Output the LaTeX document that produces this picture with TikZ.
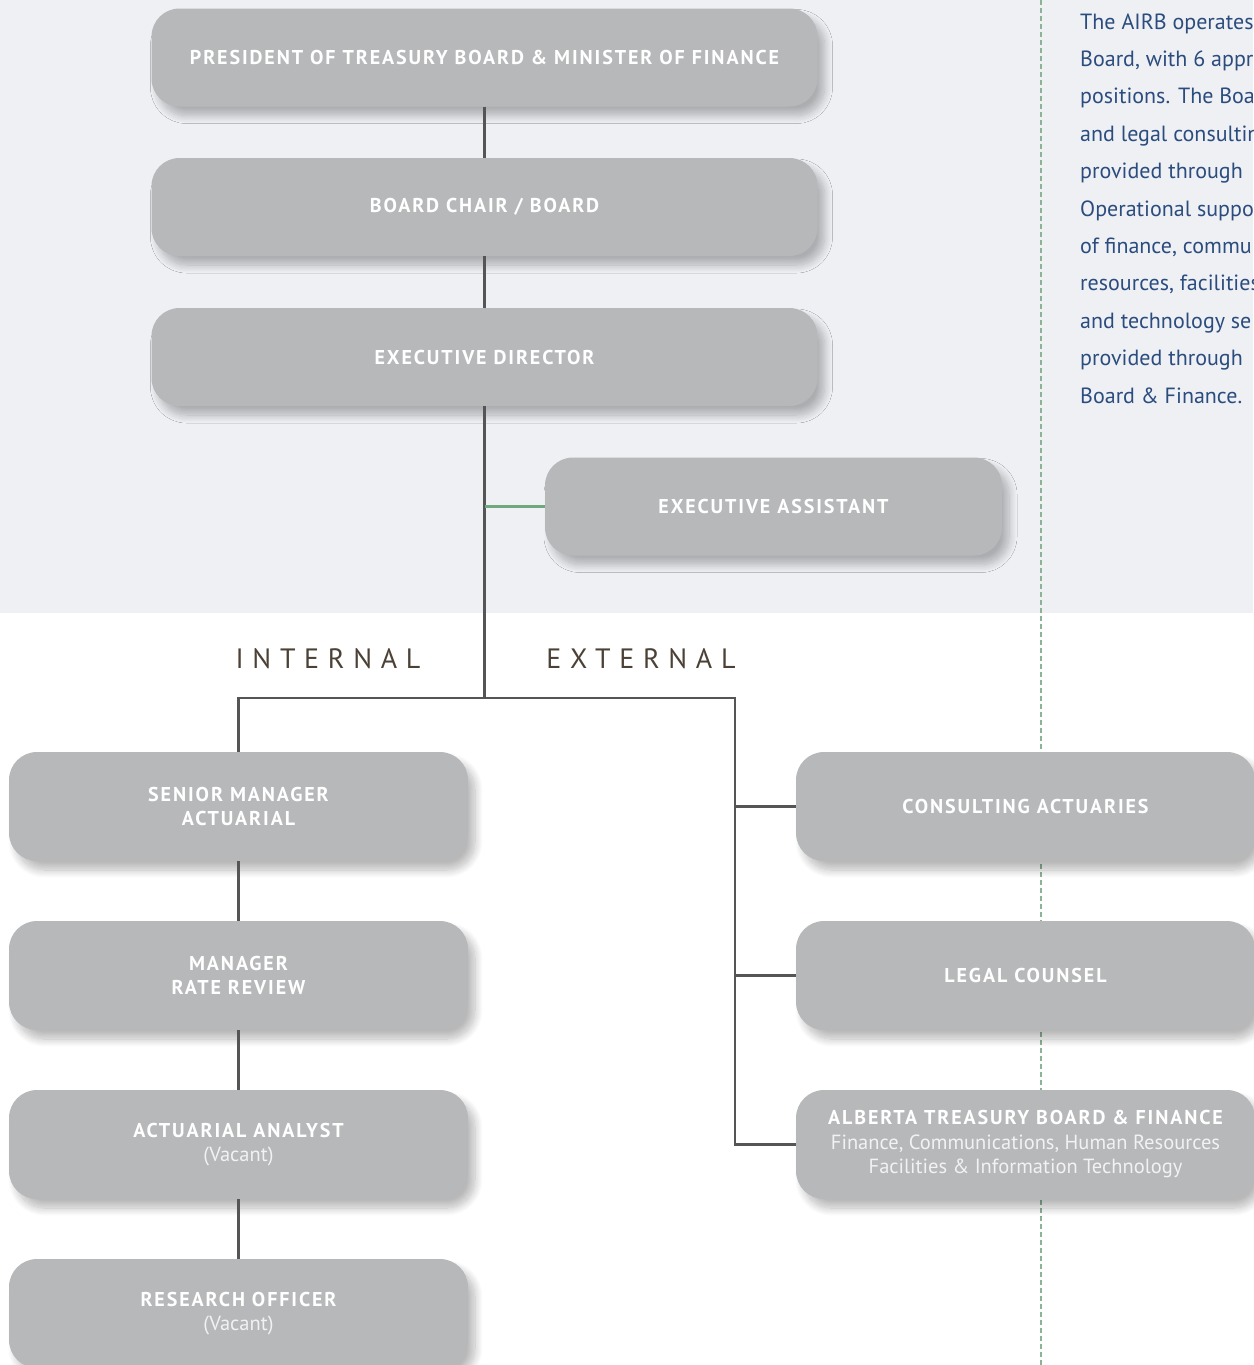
\documentclass[tikz,border=0pt]{standalone}
\usepackage{fontspec}
\setmainfont{PT Sans}
\newfontfamily\boxfont[LetterSpace=9.5]{PT Sans}
\newfontfamily\widefont[LetterSpace=31]{PT Sans}
\usetikzlibrary{shadows.blur}
\definecolor{boxgray}{HTML}{B7B8BA}
\definecolor{bgshade}{HTML}{EFF0F4}
\definecolor{connc}{HTML}{555555}
\definecolor{greenc}{HTML}{6FA77F}
\definecolor{dashc}{HTML}{8DB396}
\definecolor{bluetext}{HTML}{2B4C7E}
\definecolor{browntext}{HTML}{4B4136}
\definecolor{subtext}{HTML}{F2F2F3}
\begin{document}
\begin{tikzpicture}[x=1pt,y=-1pt,
  orgbox/.style={fill=boxgray, rounded corners=28pt, minimum width=666pt,
    minimum height=98pt, inner sep=0pt, text=white, align=center,
    font=\boxfont\bfseries\fontsize{20}{24.5}\selectfont,
    blur shadow={shadow xshift=7pt, shadow yshift=-9pt, shadow blur radius=8pt, shadow blur steps=12, shadow opacity=28}},
  lowbox/.style={orgbox, minimum width=459pt, minimum height=109pt},
  conn/.style={draw=connc, line width=2.4pt},
  greenline/.style={draw=greenc, line width=2.4pt},
  dashline/.style={draw=dashc, line width=1.4pt, dash pattern=on 5pt off 3pt},
  sidetext/.style={anchor=base west, inner sep=0pt, text=bluetext, font=\fontsize{22}{26}\selectfont},
  splitlabel/.style={text=browntext, inner sep=0pt, font=\widefont\fontsize{28}{30}\selectfont}
]
\newcommand{\subline}[1]{{\normalfont\mdseries\color{subtext}\fontsize{20.5}{24.5}\selectfont #1}}
\useasboundingbox (0,0) rectangle (1253,1365);
\fill[bgshade] (0,0) rectangle (1253,613);
\draw[dashline] (1041,0) -- (1041,1365);

% top chain
\node[orgbox] (pres) at (484.5,57.5) {PRESIDENT OF TREASURY BOARD \& MINISTER OF FINANCE};
\node[orgbox] (chair) at (484.5,207) {BOARD CHAIR / BOARD};
\node[orgbox] (ed) at (484.5,357) {EXECUTIVE DIRECTOR};
\node[orgbox, minimum width=457pt] (ea) at (773.5,506.5) {EXECUTIVE ASSISTANT};

% internal
\node[lowbox] (sma) at (238.5,806.5) {SENIOR MANAGER\\ACTUARIAL};
\node[lowbox] (mrr) at (238.5,975.5) {MANAGER\\RATE REVIEW};
\node[lowbox] (aa) at (238.5,1144.5) {ACTUARIAL ANALYST\\\subline{(Vacant)}};
\node[lowbox] (ro) at (238.5,1313.5) {RESEARCH OFFICER\\\subline{(Vacant)}};

% external
\node[lowbox] (ca) at (1025.5,806.5) {CONSULTING ACTUARIES};
\node[lowbox] (lc) at (1025.5,975.5) {LEGAL COUNSEL};
\node[lowbox] (atb) at (1025.5,1144.5) {ALBERTA TREASURY BOARD \& FINANCE\\\subline{Finance, Communications, Human Resources}\\\subline{Facilities \& Information Technology}};

% labels
\node[splitlabel] (internal) at (328,659) {INTERNAL};
\node[splitlabel] (external) at (641,659) {EXTERNAL};

% connectors
\coordinate (hub) at (484.5,698);
\coordinate (rtop) at (735,698);
\draw[conn] (pres.south) -- (chair.north);
\draw[conn] (chair.south) -- (ed.north);
\draw[conn] (ed.south) -- (hub);
\draw[greenline] (ed.south |- ea.west) -- (ea.west);
\draw[conn] (sma.north) |- (rtop) -- (rtop |- atb.west) -- (atb.west);
\draw[conn] (rtop |- ca.west) -- (ca.west);
\draw[conn] (rtop |- lc.west) -- (lc.west);
\draw[conn] (sma.south) -- (mrr.north);
\draw[conn] (mrr.south) -- (aa.north);
\draw[conn] (aa.south) -- (ro.north);

% side text
\foreach \t [count=\i] in {{The AIRB operates},{Board, with 6 appr},{positions. The Boa},{and legal consultin},{provided through},{Operational suppo},{of finance, commu},{resources, facilities},{and technology se},{provided through},{Board \& Finance.}}
  \node[sidetext] (side\i) at (1080,{29+37.4*(\i-1)}) {\t};
\end{tikzpicture}
\end{document}
